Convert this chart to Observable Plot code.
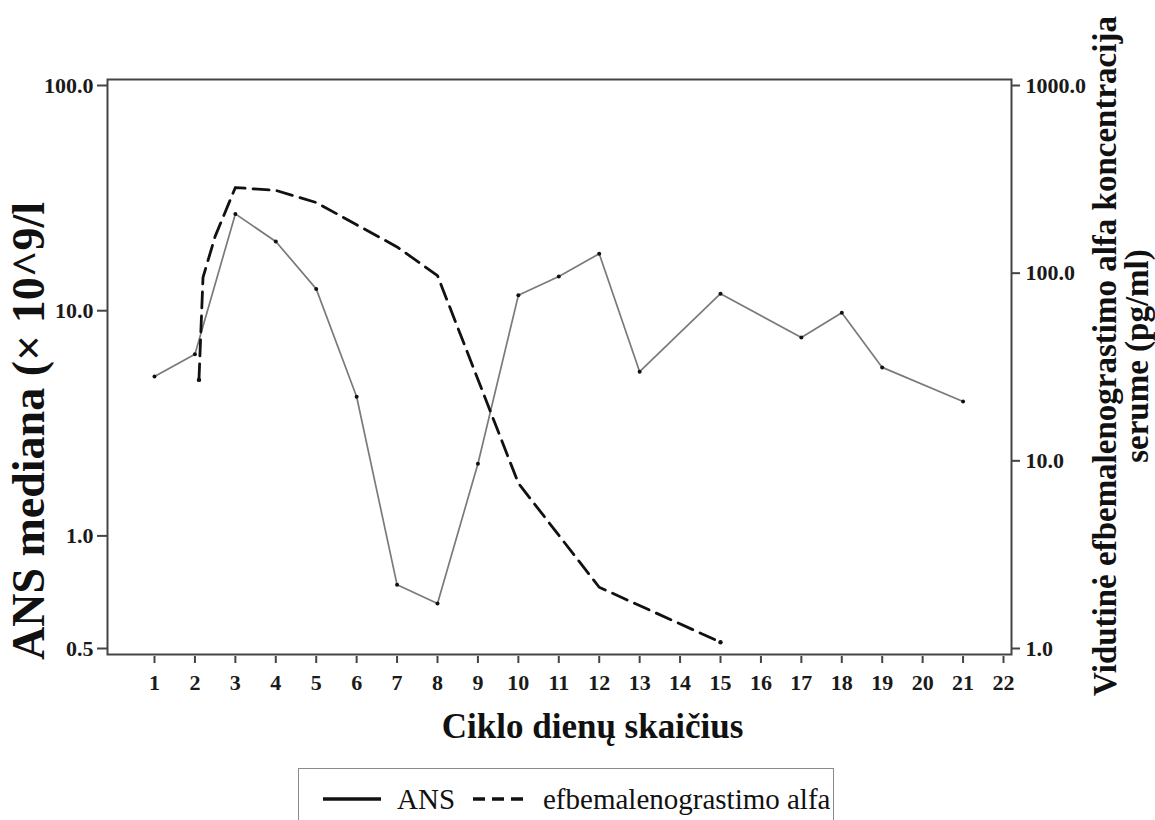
<!DOCTYPE html>
<html>
<head>
<meta charset="utf-8">
<script src="https://cdn.jsdelivr.net/npm/d3@7"></script>
<script src="https://cdn.jsdelivr.net/npm/@observablehq/plot@0.6"></script>
<style>
  html, body { margin: 0; padding: 0; background: #fff; }
  #wrap { position: relative; width: 1155px; height: 820px; overflow: hidden; }
  #chart { position: absolute; left: 0; top: 0; }
  #legend { position: absolute; left: 298px; top: 768px; width: 536px; height: 70px;
    border: 1.5px solid #8a8a8a; box-sizing: border-box; background: #fff;
    font-family: "Liberation Serif", "Times New Roman", serif; font-size: 29px; color: #111; }
  #legend .item { position: absolute; top: 13px; line-height: 34px; white-space: nowrap; }
  #legend svg { position: absolute; }
</style>
</head>
<body>
<div id="wrap">
  <div id="chart"></div>
  <div id="legend">
    <svg style="left:24px; top:26px" width="60" height="8"><line x1="0" y1="4" x2="58" y2="4" stroke="#111" stroke-width="3.5"/></svg>
    <span class="item" style="left:98px">ANS</span>
    <svg style="left:174px; top:26px" width="54" height="8"><line x1="0" y1="4" x2="52" y2="4" stroke="#111" stroke-width="3.5" stroke-dasharray="12,7"/></svg>
    <span class="item" style="left:244px">efbemalenograstimo alfa</span>
  </div>
</div>
<script>
// ---- Data ----
const ansDays   = [1, 2, 3, 4, 5, 6, 7, 8, 9, 10, 11, 12, 13, 15, 17, 18, 19, 21];
const ansValues = [5.1, 6.4, 26.9, 20.3, 12.5, 4.15, 0.74, 0.66, 2.09, 11.7, 14.2, 17.9, 5.36, 11.9, 7.6, 9.8, 5.6, 3.95];

const drugDays   = [2.1, 2.2, 2.5, 3, 4, 5, 6, 7, 8, 10, 12, 15];
const drugValues = [27, 95, 157, 286, 276, 238, 181, 138, 97, 7.6, 2.12, 1.08];

const dayTicks   = [1, 2, 3, 4, 5, 6, 7, 8, 9, 10, 11, 12, 13, 14, 15, 16, 17, 18, 19, 20, 21, 22];
const leftTicks  = [0.5, 1, 10, 100];
const rightTicks = [1, 10, 100, 1000];

const xLabel = "Ciklo dienų skaičius";
const yLeftLabel = "ANS mediana (× 10^9/l";
const yRightLabel = "Vidutinė efbemalenograstimo alfa koncentracija\nserume (pg/ml)";

// The left (ANS) axis maps onto the right (log) axis: 0.5 → bottom, 1 → 20%, 100 → top.
const leftToLogRight = d3.scaleLog().domain([0.5, 1, 100]).range([0, 0.6, 3]);
const toRight = v => 10 ** leftToLogRight(v);

const ans = ansDays.map((d, i) => ({day: d, v: toRight(ansValues[i])}));
const drug = drugDays.map((d, i) => ({day: d, v: drugValues[i]}));
const leftTickData = leftTicks.map(t => ({pos: toRight(t), label: t.toFixed(1)}));

const serif = "'Liberation Serif', 'Times New Roman', serif";

const chart = Plot.plot({
  width: 1155,
  height: 820,
  marginTop: 79,
  marginBottom: 166,
  marginLeft: 107,
  marginRight: 144,
  x: {domain: [1, 22], insetLeft: 47, insetRight: 8},
  y: {type: "log", domain: [1, 1000], insetTop: 6, insetBottom: 6},
  style: {fontFamily: serif, fontSize: "22px", fontWeight: "bold", color: "#1a1a1a", background: "#fff"},
  marks: [
    Plot.frame({stroke: "#444", strokeWidth: 2}),
    Plot.axisX(dayTicks, {anchor: "bottom", tickSize: 7, tickPadding: 11, dy: 2, label: null,
      stroke: "#444", strokeWidth: 2, tickFormat: d => String(d)}),
    Plot.axisY(leftTickData.map(d => d.pos), {anchor: "left", tickSize: 10, label: null,
      stroke: "#444", strokeWidth: 2, tickFormat: () => ""}),
    Plot.text(leftTickData, {y: "pos", text: "label", frameAnchor: "left", dx: -14, textAnchor: "end",
      lineAnchor: "middle", fontSize: 22, fontWeight: "bold", fill: "#1a1a1a"}),
    Plot.axisY(rightTicks, {anchor: "right", tickSize: 8, tickPadding: 6, label: null,
      stroke: "#444", strokeWidth: 2, tickFormat: d => d.toFixed(1)}),
    Plot.line(ans, {x: "day", y: "v", stroke: "#7a7a7a", strokeWidth: 1.7}),
    Plot.dot(ans, {x: "day", y: "v", r: 2, fill: "#111"}),
    Plot.line(drug, {x: "day", y: "v", stroke: "#111", strokeWidth: 2.8, strokeDasharray: "16,8"}),
    Plot.dot([drug[0], drug[drug.length - 1]], {x: "day", y: "v", r: 2.2, fill: "#111"}),
    Plot.text([xLabel], {text: d => d, frameAnchor: "bottom", dx: 33, dy: 72, textAnchor: "middle",
      lineAnchor: "middle", fontSize: 35, fontWeight: "bold", fill: "#111"}),
    Plot.text([yLeftLabel], {text: d => d, frameAnchor: "left", dx: -78, dy: 64, rotate: -90,
      textAnchor: "middle", lineAnchor: "middle", fontSize: 46, fontWeight: "bold", fill: "#111"}),
    Plot.text([yRightLabel], {text: d => d, frameAnchor: "right", dx: 110, dy: -11, rotate: -90,
      textAnchor: "middle", lineAnchor: "middle", lineHeight: 0.98, fontSize: 33, fontWeight: "bold", fill: "#111"})
  ]
});
document.getElementById("chart").appendChild(chart);
</script>
</body>
</html>
